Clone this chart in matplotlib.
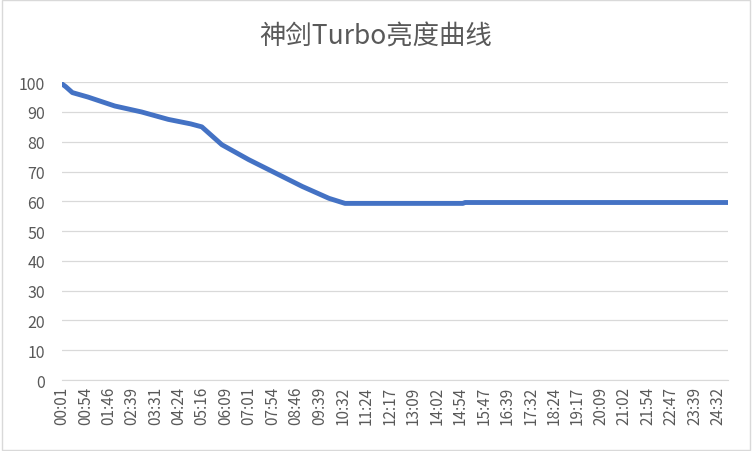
import matplotlib
matplotlib.use("Agg")
import matplotlib.pyplot as plt
from matplotlib.patches import Rectangle

plt.rcParams['font.family'] = ['Noto Sans CJK SC', 'DejaVu Sans']

title = "神剑Turbo亮度曲线"
tick_labels = ["00:01","00:54","01:46","02:39","03:31","04:24","05:16","06:09","07:01","07:54",
               "08:46","09:39","10:32","11:24","12:17","13:09","14:02","14:54","15:47","16:39",
               "17:32","18:24","19:17","20:09","21:02","21:54","22:47","23:39","24:32"]
# time in seconds, brightness (%)
times = [1, 10, 25, 60, 120, 180, 240, 290, 315, 330, 360, 420, 480, 540, 600, 636, 700, 800, 900, 905, 1000, 1200, 1494]
bright = [99.5, 98.5, 96.5, 95, 92, 90, 87.5, 86, 85, 83, 79, 74, 69.5, 65, 61, 59.3, 59.3, 59.3, 59.3, 59.6, 59.6, 59.6, 59.6]

def to_sec(s):
    m, ss = s.split(":")
    return int(m) * 60 + int(ss)

fig = plt.figure(figsize=(7.52, 4.52), dpi=100)
fig.patches.append(Rectangle((0.002, 0.003), 0.996, 0.994, transform=fig.transFigure,
                             fill=False, edgecolor="#D9D9D9", lw=1))
ax = fig.add_axes([0.082, 0.157, 0.886, 0.659])
ax.plot(times, bright, color="#4472C4", lw=3.5, solid_capstyle="round")
ax.set_xlim(1, 1494)
ax.set_ylim(0, 100)
ax.set_yticks(range(0, 101, 10))
ax.set_xticks([to_sec(t) for t in tick_labels])
ax.set_xticklabels(tick_labels, rotation=90, fontsize=11, color="#595959")
ax.tick_params(axis='y', labelsize=11.5, colors="#595959", length=0, pad=12)
ax.tick_params(axis='x', length=0, pad=4)
ax.grid(axis='y', color="#D9D9D9", lw=0.9)
ax.set_axisbelow(True)
for s in ["top", "right", "left"]:
    ax.spines[s].set_visible(False)
ax.spines["bottom"].set_color("#D9D9D9")
fig.text(0.5, 0.918, title, ha="center", va="center", fontsize=19, color="#595959")
fig.savefig("out.png", dpi=100)
